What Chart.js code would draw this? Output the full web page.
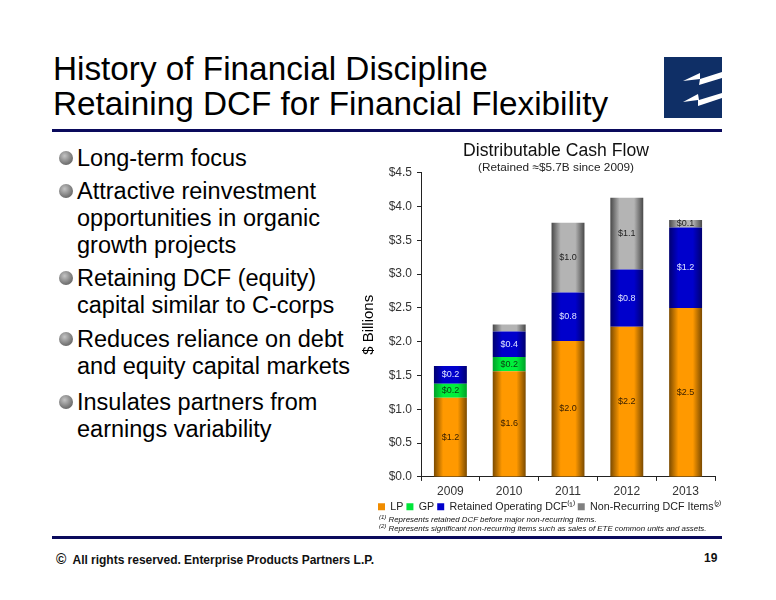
<!DOCTYPE html>
<html><head><meta charset="utf-8">
<script src="https://cdn.jsdelivr.net/npm/chart.js@4"></script>
<style>
html,body{margin:0;padding:0;background:#fff;}
body{width:776px;height:600px;position:relative;overflow:hidden;font-family:"Liberation Sans",Arial,sans-serif;color:#000;}
.t{position:absolute;white-space:nowrap;}
.title{left:53px;font-size:33.3px;line-height:35px;}
.b{left:77px;font-size:23.5px;line-height:26px;}
.dot{position:absolute;left:59px;width:14px;height:14px;border-radius:50%;background:radial-gradient(circle at 40% 35%,#c4c4c4,#808080 55%,#4c4c4c);}
.rule{position:absolute;left:52px;width:670px;height:3px;background:#0a0a5c;}
.note{left:379px;font-size:7.9px;font-style:italic;line-height:10px;color:#111;}
.note sup{font-size:6px;line-height:0;vertical-align:3px;}
#wrap{position:absolute;left:360px;top:138px;width:392px;height:389px;}
</style></head><body>
<div class="t title" style="top:51px">History of Financial Discipline</div>
<div class="t title" style="top:86px">Retaining DCF for Financial Flexibility</div>
<div class="rule" style="top:129px"></div>
<svg style="position:absolute;left:664px;top:57px" width="58" height="61" viewBox="0 0 58 61">
<rect width="58" height="61" fill="#0f2f66"/>
<polygon fill="#fff" points="19,24 36,16 36,22 58,15 58,21 35,28 36,22"/>
<polygon fill="#fff" points="19,45 34,37 35,43 58,36 58,41 34,49 34,43"/>
</svg>
<div id="bullets"></div>
<div id="wrap"><canvas id="c" width="392" height="389"></canvas></div>
<div class="t note" style="top:515px"><sup>(1)</sup> Represents retained DCF before major non-recurring items.</div>
<div class="t note" style="top:524px"><sup>(2)</sup> Represents significant non-recurring items such as sales of ETE common units and assets.</div>
<div class="rule" style="top:536px"></div>
<div class="t" style="left:56px;top:551px;font-size:12px;font-weight:bold;color:#111;letter-spacing:-.02px"><span style="font-size:14px">©</span>&nbsp; All rights reserved. Enterprise Products Partners L.P.</div>
<div class="t" style="left:704px;top:551px;font-size:12px;font-weight:bold;color:#111">19</div>
<script>
const categories=["2009","2010","2011","2012","2013"];
const yTickLabels=["$0.0","$0.5","$1.0","$1.5","$2.0","$2.5","$3.0","$3.5","$4.0","$4.5"];
const lpValues=[1.17,1.565,2.01,2.22,2.50];
const gpValues=[0.21,0.21,0,0,0];
const retainedValues=[0.26,0.375,0.72,0.85,1.19];
const nonRecurringValues=[0,0.105,1.03,1.06,0.11];
const lpLabels=["$1.2","$1.6","$2.0","$2.2","$2.5"];
const gpLabels=["$0.2","$0.2","","",""];
const retainedLabels=["$0.2","$0.4","$0.8","$0.8","$1.2"];
const nonRecurringLabels=["","","$1.0","$1.1","$0.1"];
const legendColors=['#f08c00','#00e63a','#0000cc','#808080'];
const bulletLines=[
 [158,"Long-term focus",1],[191,"Attractive reinvestment",1],[218,"opportunities in organic",0],[245,"growth projects",0],
 [278,"Retaining DCF (equity)",1],[305,"capital similar to C-corps",0],[339,"Reduces reliance on debt",1],[366,"and equity capital markets",0],
 [402,"Insulates partners from",1],[429,"earnings variability",0]];
const host=document.getElementById('bullets');
bulletLines.forEach(([y,s,d])=>{
 const e=document.createElement('div');e.className='t b';e.style.top=(y-13)+'px';e.textContent=s;host.appendChild(e);
 if(d){const o=document.createElement('div');o.className='dot';o.style.top=(y-7)+'px';host.appendChild(o);}
});
function shade(edge,mid){
 return function(ctx){
  const ch=ctx.chart;
  if(ctx.type!=='data'||!ch.scales||!ch.scales.x) return mid;
  const cx=ch.scales.x.getPixelForValue(ctx.dataIndex), w=16.5;
  if(!Number.isFinite(cx)) return mid;
  const g=ch.ctx.createLinearGradient(cx-w,0,cx+w,0);
  g.addColorStop(0,edge);g.addColorStop(.28,mid);g.addColorStop(.72,mid);g.addColorStop(1,edge);
  return g;
 };
}
const barLabels={id:'barLabels',
 afterLayout(ch){ch.legend.left=15;ch.legend.top-=5;},
 afterDatasetsDraw(ch){
 const c=ch.ctx;c.save();c.font='9px "Liberation Sans"';c.textAlign='center';c.textBaseline='middle';
 ch.data.datasets.forEach((ds,i)=>{
  const m=ch.getDatasetMeta(i);
  m.data.forEach((el,j)=>{
   const s=ds.segLabels[j];if(!s)return;
   c.fillStyle=ds.segColor;c.fillText(s,el.x,(el.y+el.base)/2);
  });
 });
 c.restore();
}};
const common={barPercentage:.56,categoryPercentage:1,stack:'a',borderWidth:0};
new Chart(document.getElementById('c'),{
 type:'bar',plugins:[barLabels],
 data:{labels:categories,datasets:[
  {...common,label:'LP',data:lpValues,backgroundColor:shade('#7a4a00','#ff9900'),segLabels:lpLabels,segColor:'#3a2000'},
  {...common,label:'GP',data:gpValues,backgroundColor:shade('#00a028','#00f03c'),segLabels:gpLabels,segColor:'#0b3a10'},
  {...common,label:'Retained Operating DCF⁽¹⁾',data:retainedValues,backgroundColor:shade('#000070','#0000cc'),segLabels:retainedLabels,segColor:'#dfe4ff'},
  {...common,label:'Non-Recurring DCF Items⁽²⁾',data:nonRecurringValues,backgroundColor:shade('#484848','#b4b4b4'),segLabels:nonRecurringLabels,segColor:'#222'}
 ]},
 options:{
  responsive:false,animation:false,devicePixelRatio:1,
  layout:{padding:0},
  plugins:{
   title:{display:true,text:'Distributable Cash Flow',font:{family:'Liberation Sans',size:17.6,weight:'normal'},color:'#111',padding:{top:2.5,bottom:-1}},
   subtitle:{display:true,text:'(Retained ≈$5.7B since 2009)',font:{family:'Liberation Sans',size:11.8},color:'#222',padding:{top:0,bottom:-2}},
   legend:{position:'bottom',align:'start',labels:{boxWidth:7,boxHeight:7,padding:3,color:'#222',font:{family:'Liberation Sans',size:10.7},
    generateLabels(chart){const items=Chart.defaults.plugins.legend.labels.generateLabels(chart);items.forEach((it,i)=>{it.fillStyle=legendColors[i];});return items;}}},
   tooltip:{enabled:false}
  },
  scales:{
   x:{stacked:true,offset:true,border:{color:'#222'},grid:{offset:true,drawOnChartArea:false,tickLength:4,color:'#222'},ticks:{color:'#333',font:{family:'Liberation Sans',size:12},padding:4,maxRotation:0}},
   y:{stacked:true,min:0,max:4.5,afterBuildTicks(ax){ax.ticks=yTickLabels.map((_,i)=>({value:i*.5}));},
    afterFit(s){s.width=61;},
    border:{color:'#222'},grid:{drawOnChartArea:false,tickLength:4,color:'#222'},
    ticks:{color:'#333',font:{family:'Liberation Sans',size:12},padding:5,callback(v,i){return yTickLabels[i];}},
    title:{display:true,text:'$ Billions',color:'#000',font:{family:'Liberation Sans',size:15},padding:{top:0,bottom:6}}},
   rightMargin:{position:'right',afterFit(s){s.width=37;},border:{display:false},grid:{display:false},ticks:{display:false}}
  }
 }
});
</script>
</body></html>
